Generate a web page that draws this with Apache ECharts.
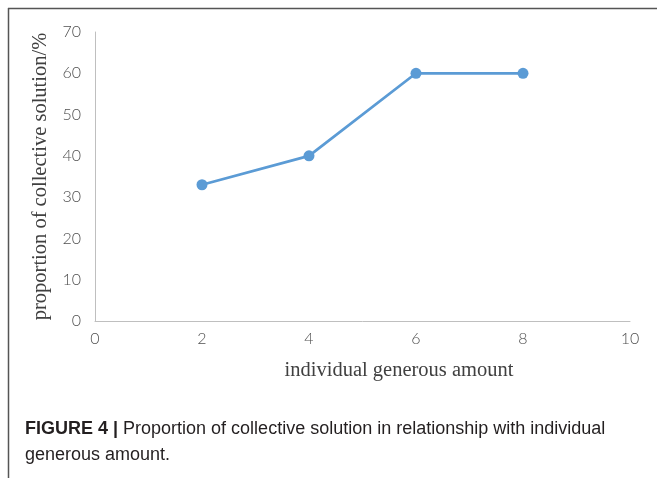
<!DOCTYPE html>
<html>
<head>
<meta charset="utf-8">
<script src="https://cdn.jsdelivr.net/npm/echarts@6/dist/echarts.min.js"></script>
<style>
html,body{margin:0;padding:0;background:#fff;}
#chart{width:657px;height:478px;}
</style>
</head>
<body>
<div id="chart"></div>
<script>
const xValues = [2, 4, 6, 8];
const yValues = [33, 40, 60, 60];
const xAxisName = 'individual generous amount';
const yAxisName = 'proportion of collective solution/%';
const captionBold = 'FIGURE 4 |';
const captionLine1 = ' Proportion of collective solution in relationship with individual';
const captionLine2 = 'generous amount.';

const chart = echarts.init(document.getElementById('chart'), null, {renderer: 'canvas'});
const tickFont = {color: '#505050', fontSize: 16, fontFamily: 'Lato', fontWeight: 300};
chart.setOption({
  animation: false,
  grid: {left: 95, right: 27, top: 32, bottom: 157, containLabel: false},
  xAxis: {
    type: 'value', min: 0, max: 10, interval: 2,
    axisLine: {show: true, lineStyle: {color: '#bfbfbf', width: 1}},
    axisTick: {show: false},
    splitLine: {show: false},
    axisLabel: Object.assign({margin: 10}, tickFont),
    name: xAxisName, nameLocation: 'middle', nameGap: 39,
    nameTextStyle: {fontFamily: 'Liberation Serif', fontSize: 20.5, color: '#404040', padding: [0, 0, 0, 73]}
  },
  yAxis: {
    type: 'value', min: 0, max: 70, interval: 10,
    axisLine: {show: true, lineStyle: {color: '#bfbfbf', width: 1}},
    axisTick: {show: false},
    splitLine: {show: false},
    axisLabel: Object.assign({margin: 14}, tickFont),
    name: yAxisName, nameLocation: 'middle', nameGap: 42, nameRotate: 90,
    nameTextStyle: {fontFamily: 'Liberation Serif', fontSize: 20.5, color: '#404040'}
  },
  series: [{
    type: 'line',
    data: xValues.map((x, i) => [x, yValues[i]]),
    symbol: 'circle', symbolSize: 11,
    lineStyle: {color: '#5b9bd5', width: 2.75},
    itemStyle: {color: '#5b9bd5'}
  }],
  graphic: [
    {type: 'line', shape: {x1: 8, y1: 8.5, x2: 657, y2: 8.5}, style: {stroke: '#555', lineWidth: 1.5}},
    {type: 'line', shape: {x1: 8.5, y1: 8, x2: 8.5, y2: 478}, style: {stroke: '#555', lineWidth: 1.5}},
    {type: 'text', left: 25, top: 420, style: {
      text: '{b|' + captionBold + '}{n|' + captionLine1 + '}\n{n|' + captionLine2 + '}',
      rich: {
        b: {fontFamily: 'Liberation Sans', fontWeight: 'bold', fontSize: 18, fill: '#231f20', lineHeight: 26},
        n: {fontFamily: 'Liberation Sans', fontSize: 18, fill: '#231f20', lineHeight: 26}
      }
    }}
  ]
});
</script>
</body>
</html>
